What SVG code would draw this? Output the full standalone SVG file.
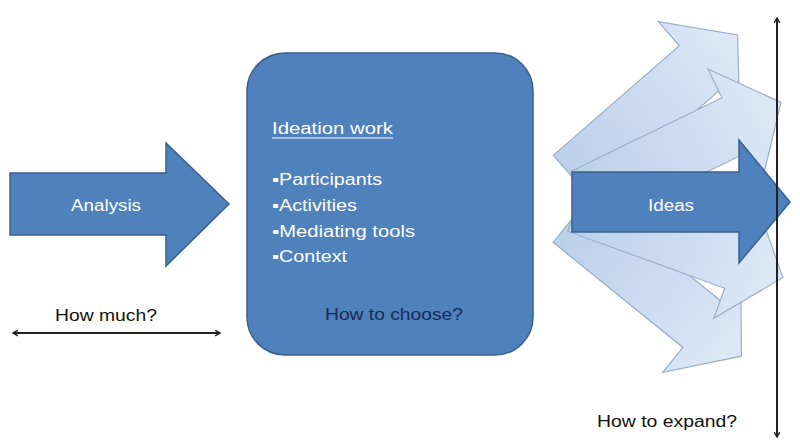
<svg xmlns="http://www.w3.org/2000/svg" width="800" height="448" viewBox="0 0 800 448">
  <defs>
    <linearGradient id="lightFill" x1="0" y1="0" x2="1" y2="0">
      <stop offset="0" stop-color="#bcd0ea"/>
      <stop offset="0.6" stop-color="#cfdef3"/>
      <stop offset="1" stop-color="#dfe9f7"/>
    </linearGradient>
    <polygon id="arrowShape" points="0,-30 167,-30 167,-62 218,0 167,62 167,30 0,30"/>
    <marker id="tip" viewBox="0 0 10 10" refX="8" refY="5" markerWidth="7" markerHeight="7" markerUnits="userSpaceOnUse" orient="auto-start-reverse">
      <path d="M1,1 L8,5 L1,9" fill="none" stroke="#222" stroke-width="2"/>
    </marker>
  </defs>
  <style>
    .dark { fill: #4f81bd; stroke: #3a5f8f; stroke-width: 1.5; }
    .light { fill: url(#lightFill); stroke: #9aafcb; stroke-width: 1.2; }
    .t { font-family: "Liberation Sans", Arial, sans-serif; font-size: 16px; }
    .w { fill: #ffffff; }
    .k { fill: #111111; }
    .n { fill: #1a2a56; }
    .conn { stroke: #222; stroke-width: 2; fill: none; marker-start: url(#tip); marker-end: url(#tip); }
  </style>
  <rect width="800" height="448" fill="#ffffff"/>

  <g id="node-analysis">
    <polygon class="dark" points="10,173 166,173 166,143 229,204 166,266 166,235 10,235"/>
    <text class="t w" x="71" y="211" textLength="70" lengthAdjust="spacingAndGlyphs">Analysis</text>
  </g>

  <g id="node-ideation">
    <rect class="dark" x="247" y="53" width="286" height="302" rx="38" ry="38"/>
    <text class="t w" x="272" y="134" textLength="121" lengthAdjust="spacingAndGlyphs">Ideation work</text>
    <line x1="272" y1="138" x2="393" y2="138" stroke="#ffffff" stroke-width="1.2"/>
    <text class="t w" x="272" y="185" textLength="110" lengthAdjust="spacingAndGlyphs">▪Participants</text>
    <text class="t w" x="272" y="211" textLength="85" lengthAdjust="spacingAndGlyphs">▪Activities</text>
    <text class="t w" x="272" y="237" textLength="143" lengthAdjust="spacingAndGlyphs">▪Mediating tools</text>
    <text class="t w" x="272" y="262" textLength="75" lengthAdjust="spacingAndGlyphs">▪Context</text>
    <text class="t n" x="325" y="320" textLength="138" lengthAdjust="spacingAndGlyphs">How to choose?</text>
  </g>

  <g id="node-ideas-fan">
    <use href="#arrowShape" class="light" transform="translate(573,178) rotate(-41)"/>
    <use href="#arrowShape" class="light" transform="translate(572,219) rotate(39)"/>
    <use href="#arrowShape" class="light" transform="translate(585,198) rotate(-26)"/>
    <use href="#arrowShape" class="light" transform="translate(578,203) rotate(20)"/>
  </g>

  <g id="node-ideas">
    <polygon class="dark" points="572,172 739,172 739,140 790,202 739,263 739,232 572,232"/>
    <text class="t w" x="648" y="211" textLength="46" lengthAdjust="spacingAndGlyphs">Ideas</text>
  </g>

  <g id="connectors">
    <line class="conn" x1="13" y1="333" x2="220" y2="333"/>
    <line class="conn" x1="777" y1="18" x2="777" y2="437"/>
  </g>

  <g id="labels">
    <text class="t k" x="55" y="321" textLength="102" lengthAdjust="spacingAndGlyphs">How much?</text>
    <text class="t k" x="597" y="427" textLength="140" lengthAdjust="spacingAndGlyphs">How to expand?</text>
  </g>
</svg>
